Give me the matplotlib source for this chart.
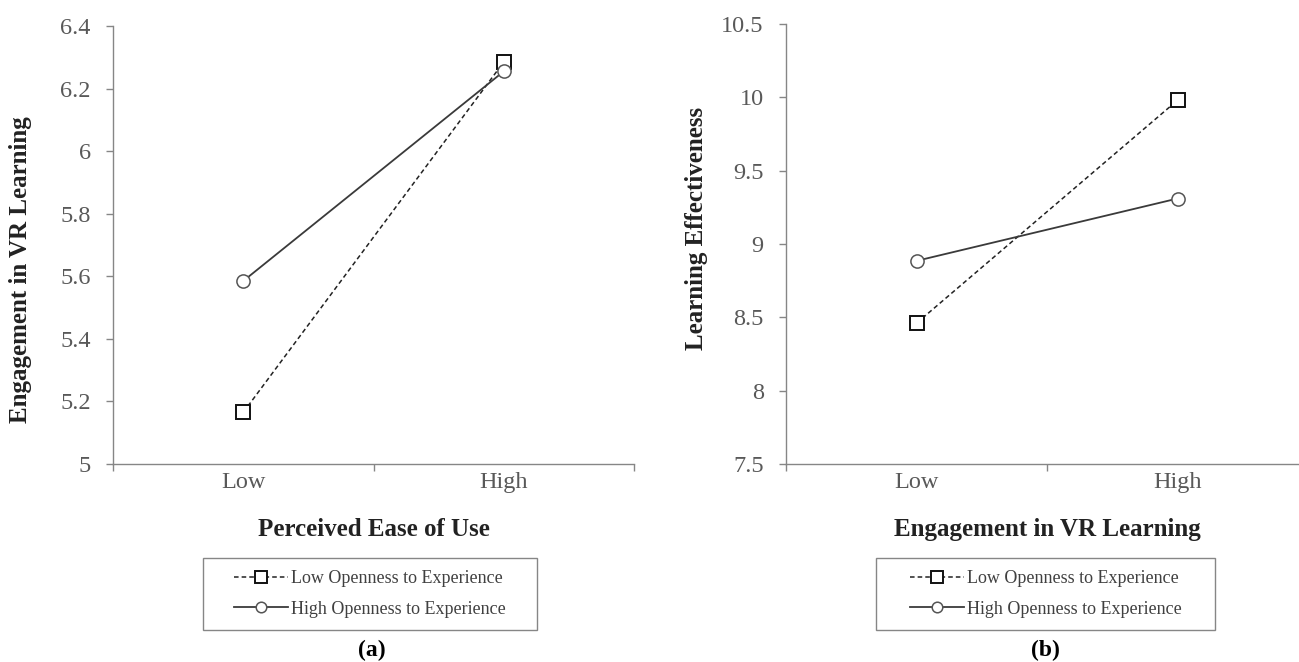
import matplotlib
matplotlib.use("Agg")
import matplotlib.pyplot as plt
from matplotlib.patches import Rectangle

plt.rcParams['font.family'] = ['Liberation Serif', 'DejaVu Serif']

categories = ["Low", "High"]
series_names = ["Low Openness to Experience", "High Openness to Experience"]

# panel (a)
a_low_open = [5.165, 6.285]
a_high_open = [5.585, 6.255]
a_ylim = (5.0, 6.4)
a_yticks = [5, 5.2, 5.4, 5.6, 5.8, 6, 6.2, 6.4]
a_yticklabels = ["5", "5.2", "5.4", "5.6", "5.8", "6", "6.2", "6.4"]

# panel (b)
b_low_open = [8.46, 9.98]
b_high_open = [8.885, 9.31]
b_ylim = (7.5, 10.5)
b_yticks = [7.5, 8, 8.5, 9, 9.5, 10, 10.5]
b_yticklabels = ["7.5", "8", "8.5", "9", "9.5", "10", "10.5"]

axis_col = "#868686"
tick_col = "#595959"
W, H = 1299, 662


def draw_panel(ax, low, high, ylim, yticks, yticklabels, xlabel, ylabel, ylab_xy):
    x = range(len(categories))
    ax.plot(x, low, linestyle=(0, (3, 2)), color="#222222", lw=1.1,
            marker="s", ms=10, mfc="white", mec="#111111", mew=1.4,
            label=series_names[0])
    ax.plot(x, high, linestyle="-", color="#3a3a3a", lw=1.3,
            marker="o", ms=9.5, mfc="white", mec="#555555", mew=1.1,
            label=series_names[1])

    ax.set_xlim(-0.5, 1.5)
    ax.set_ylim(*ylim)
    ax.set_yticks(yticks)
    ax.set_yticklabels(yticklabels)
    ax.set_xticks(list(x))
    ax.set_xticklabels(categories)
    ax.set_xticks([-0.5, 0.5, 1.5], minor=True)

    for s in ["top", "right"]:
        ax.spines[s].set_visible(False)
    for s in ["left", "bottom"]:
        ax.spines[s].set_color(axis_col)
        ax.spines[s].set_linewidth(1.0)

    ax.tick_params(axis="x", which="major", length=0, pad=6,
                   labelsize=17.5, labelcolor=tick_col)
    ax.tick_params(axis="x", which="minor", length=5, width=1.0,
                   color=axis_col, direction="out")
    ax.tick_params(axis="y", length=5, width=1.0, color=axis_col,
                   direction="out", pad=11, labelsize=17.5, labelcolor=tick_col)

    ax.set_xlabel(xlabel, fontsize=18, fontweight="bold", color="#222222")
    ax.xaxis.set_label_coords(0.5, -0.123)
    ax.set_ylabel(ylabel, fontsize=18, fontweight="bold", color="#222222")
    ax.yaxis.set_label_coords(*ylab_xy)


fig = plt.figure(figsize=(W / 100, H / 100), dpi=100)
ax1 = fig.add_axes([113 / W, 1 - 464 / H, (634 - 113) / W, (464 - 26) / H])
ax2 = fig.add_axes([786 / W, 1 - 464 / H, (1308 - 786) / W, (464 - 24) / H])

draw_panel(ax1, a_low_open, a_high_open, a_ylim, a_yticks, a_yticklabels,
           "Perceived Ease of Use", "Engagement in VR Learning", (-0.155, 0.443))
draw_panel(ax2, b_low_open, b_high_open, b_ylim, b_yticks, b_yticklabels,
           "Engagement in VR Learning", "Learning Effectiveness", (-0.149, 0.535))

# legend boxes (pixel extents)
for ax, (x0, x1) in [(ax1, (203, 537)), (ax2, (876, 1215))]:
    y0, y1 = 558, 630
    fig.patches.append(Rectangle((x0 / W, 1 - y1 / H), (x1 - x0) / W, (y1 - y0) / H,
                                 transform=fig.transFigure, fill=False,
                                 edgecolor=axis_col, lw=1.0))
    h, l = ax.get_legend_handles_labels()
    leg = fig.legend(h, l, loc="center",
                     bbox_to_anchor=((x0 + x1) / 2 / W, 1 - (y0 + y1) / 2 / H),
                     frameon=False, fontsize=13, markerscale=0.8,
                     handlelength=3.0, handletextpad=0.15,
                     labelspacing=0.75, borderpad=0, borderaxespad=0)
    for t in leg.get_texts():
        t.set_color("#404040")

fig.text(372 / W, 1 - 650 / H, "(a)", fontsize=17, fontweight="bold",
         ha="center", va="center")
fig.text(1045 / W, 1 - 650 / H, "(b)", fontsize=17, fontweight="bold",
         ha="center", va="center")

fig.savefig("out.png", dpi=100)
